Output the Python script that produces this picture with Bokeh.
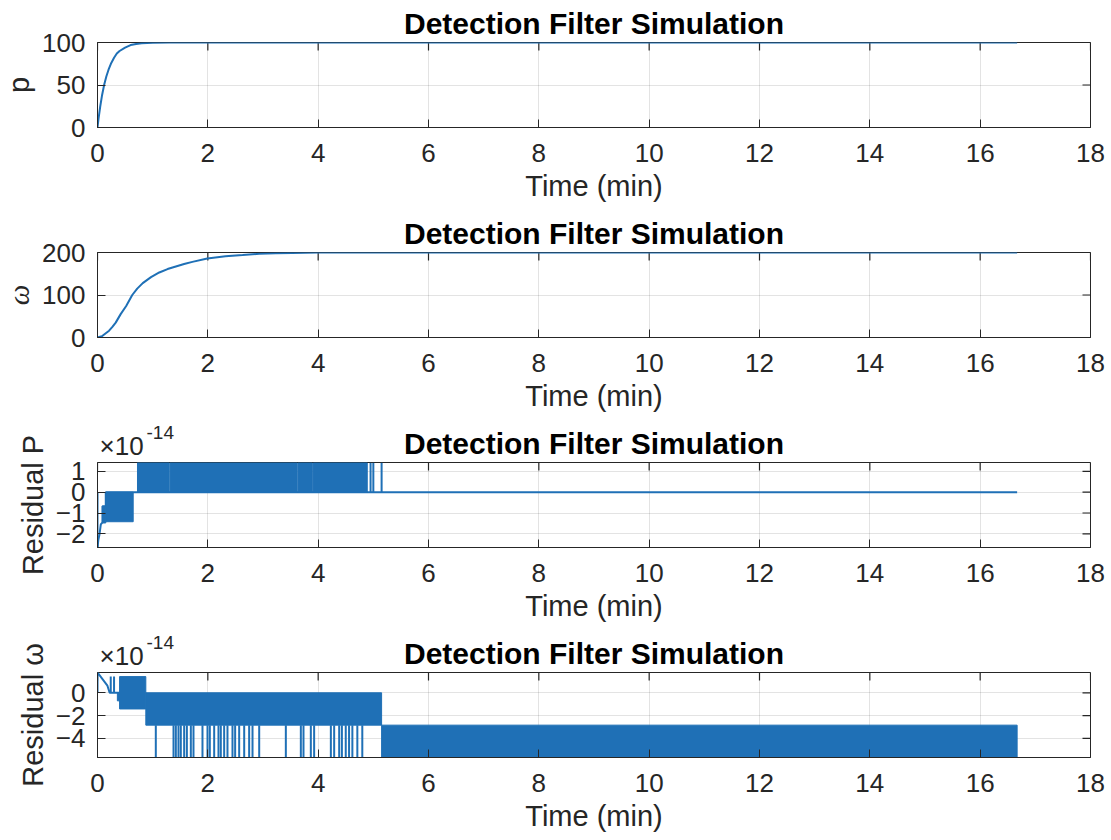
import math
from bokeh.plotting import figure
from bokeh.layouts import column
from bokeh.models import Range1d, FixedTicker, Title
from bokeh.embed import file_html
from bokeh.resources import INLINE

BLUE = "#1f70b6"
DARK = "#262626"
FONT = "Liberation Sans"

TITLE = "Detection Filter Simulation"
XLABEL = "Time (min)"
x_ticks = [0, 2, 4, 6, 8, 10, 12, 14, 16, 18]

# Panel 1: p
t_p = [0, 0.02, 0.05, 0.08, 0.12, 0.16, 0.2, 0.25, 0.3, 0.35, 0.4, 0.5, 0.6, 0.7, 0.8, 1.0, 1.3, 16.67]
p_vals = [0, 11, 25, 37, 50, 60, 68, 76, 82, 87, 90, 94, 97, 98.3, 99.1, 99.7, 100, 100]

# Panel 2: omega
t_w = [0, 0.08, 0.15, 0.21, 0.27, 0.33, 0.42, 0.52, 0.63, 0.72, 0.82, 0.97, 1.12, 1.27,
       1.42, 1.57, 1.72, 1.99, 2.32, 2.63, 2.93, 3.23, 3.53, 4.0, 5.0, 16.67]
w_vals = [0, 3, 10, 16, 25, 35, 55, 74, 100, 115, 128, 142, 153, 161,
          167, 173, 178, 186, 191, 194, 197, 198, 199, 200, 200, 200]

# Panel 3: residual P (units of 1e-14)
rp_trace_t = [0, 0.015, 0.035, 0.06, 0.09, 0.09, 0.15, 0.15, 16.67]
rp_trace_v = [-2.66, -2.3, -2.05, -1.55, -1.45, -0.68, -0.68, 0, 0]
rp_band_t0 = [0.09, 0.15, 0.725, 1.315, 3.635, 3.915]
rp_band_t1 = [0.15, 0.647, 1.300, 3.620, 3.895, 4.89]
rp_band_lo = [-1.48, -1.42, 0, 0, 0, 0]
rp_band_hi = [-0.68, 0, 1.42, 1.42, 1.42, 1.42]
rp_spike_t = [0, 4.95, 5.00, 5.15]
rp_spike_lo = [-2.66, 0, 0, 0]
rp_spike_hi = [0, 1.42, 1.42, 1.42]

# Panel 4: residual omega (units of 1e-14)
rw_trace_t = [0, 0, 0.18, 0.22, 0.40]
rw_trace_v = [0, 1.78, 0.62, 0, 0]
rw_band_t0 = [0.36, 0.40, 0.876, 5.15]
rw_band_t1 = [0.40, 0.876, 5.15, 16.67]
rw_band_lo = [-0.71, -1.42, -2.84, -5.68]
rw_band_hi = [0, 1.42, 0, -2.84]
rw_spike_up_t = [0.24, 0.30]
rw_spike_t = [1.057, 1.378, 1.42, 1.468, 1.51, 1.571, 1.62, 1.692, 1.74, 1.903, 1.994,
              2.036, 2.115, 2.193, 2.235, 2.296, 2.356, 2.447, 2.495, 2.568, 2.659, 2.749,
              2.81, 2.931, 3.414, 3.686, 3.734, 3.867, 3.927, 4.23, 4.29, 4.381, 4.43,
              4.5, 4.56, 4.62, 4.71, 4.8]
rw_spike_lo = -5.68
rw_spike_hi = -2.84


def style_axis(ax):
    ax.major_tick_in = 8
    ax.major_tick_out = 0
    ax.minor_tick_in = 0
    ax.minor_tick_out = 0
    ax.axis_line_color = DARK
    ax.axis_line_width = 1
    ax.major_tick_line_color = DARK
    ax.major_tick_line_width = 1
    ax.major_label_text_font = FONT
    ax.major_label_text_color = DARK
    ax.major_label_text_font_size = "26px"


def make_fig(ylabel, yr, yticks, exponent=False, ylabel_italic=False):
    f = figure(frame_width=993, frame_height=85, output_backend="svg", toolbar_location=None,
               x_range=Range1d(0, 18), y_range=Range1d(*yr),
               min_border_left=95, min_border_right=23, min_border_top=42, min_border_bottom=83)
    f.background_fill_color = "white"
    f.border_fill_color = "white"
    f.outline_line_color = DARK
    f.outline_line_width = 1
    f.outline_line_alpha = 1
    f.title.text = TITLE
    f.title.text_font = FONT
    f.title.text_font_size = "30px"
    f.title.text_font_style = "bold"
    f.title.text_color = "black"
    f.title.align = "center"
    f.title.standoff = 6

    xa = f.xaxis[0]
    xa.ticker = FixedTicker(ticks=x_ticks)
    style_axis(xa)
    xa.major_label_standoff = 16
    xa.axis_label = XLABEL
    xa.axis_label_text_font = FONT
    xa.axis_label_text_font_size = "29px"
    xa.axis_label_text_font_style = "normal"
    xa.axis_label_text_color = DARK
    xa.axis_label_standoff = 5

    ya = f.yaxis[0]
    ya.ticker = FixedTicker(ticks=yticks)
    style_axis(ya)
    ya.major_label_standoff = 12
    ya.axis_label = ylabel
    ya.axis_label_text_font = "Liberation Serif" if ylabel_italic else FONT
    ya.axis_label_text_font_size = "29px"
    ya.axis_label_text_font_style = "italic" if ylabel_italic else "normal"
    ya.axis_label_text_color = DARK
    ya.axis_label_standoff = 4

    f.xgrid.ticker = FixedTicker(ticks=x_ticks)
    f.ygrid.ticker = FixedTicker(ticks=yticks)
    for g in (f.xgrid[0], f.ygrid[0]):
        g.grid_line_color = DARK
        g.grid_line_alpha = 0.13
        g.grid_line_width = 1

    # inward ticks on the top and right edges of the box (clipped to the frame)
    f.scatter(x=x_ticks, y=[yr[1]] * len(x_ticks), marker="dash", angle=math.pi / 2,
              size=16, line_color=DARK, line_width=1.2)
    f.scatter(x=[18] * len(yticks), y=yticks, marker="dash", angle=0,
              size=16, line_color=DARK, line_width=1.2)

    if exponent:
        f.add_layout(Title(text="×10", align="left", offset=2, vertical_align="top",
                           standoff=-63, text_font=FONT, text_font_size="26px",
                           text_font_style="normal", text_color=DARK), "above")
        f.add_layout(Title(text="-14", align="left", offset=49, vertical_align="top",
                           standoff=-74, text_font=FONT, text_font_size="19px",
                           text_font_style="normal", text_color=DARK), "above")
    return f


f1 = make_fig("p", (0, 100), [0, 50, 100])
f1.line(t_p, p_vals, line_color=BLUE, line_width=2)

f2 = make_fig("ω", (0, 200), [0, 100, 200], ylabel_italic=True)
f2.line(t_w, w_vals, line_color=BLUE, line_width=2)

f3 = make_fig("Residual P", (-2.66, 1.43), [-2, -1, 0, 1], exponent=True)
f3.line(rp_trace_t, rp_trace_v, line_color=BLUE, line_width=2)
f3.quad(left=rp_band_t0, right=rp_band_t1, bottom=rp_band_lo, top=rp_band_hi,
        fill_color=BLUE, line_color=BLUE, line_width=1)
f3.segment(x0=rp_spike_t, x1=rp_spike_t, y0=rp_spike_lo, y1=rp_spike_hi,
           line_color=BLUE, line_width=2)

f4 = make_fig("Residual ω", (-5.68, 1.78), [-4, -2, 0], exponent=True)
f4.line(rw_trace_t, rw_trace_v, line_color=BLUE, line_width=2)
f4.quad(left=rw_band_t0, right=rw_band_t1, bottom=rw_band_lo, top=rw_band_hi,
        fill_color=BLUE, line_color=BLUE, line_width=1)
f4.segment(x0=rw_spike_up_t, x1=rw_spike_up_t, y0=[0] * len(rw_spike_up_t),
           y1=[1.42] * len(rw_spike_up_t), line_color=BLUE, line_width=2)
f4.segment(x0=rw_spike_t, x1=rw_spike_t, y0=[rw_spike_lo] * len(rw_spike_t),
           y1=[rw_spike_hi] * len(rw_spike_t), line_color=BLUE, line_width=2)

layout = column(f1, f2, f3, f4, spacing=0)
open("out.html", "w").write(file_html(layout, INLINE))
